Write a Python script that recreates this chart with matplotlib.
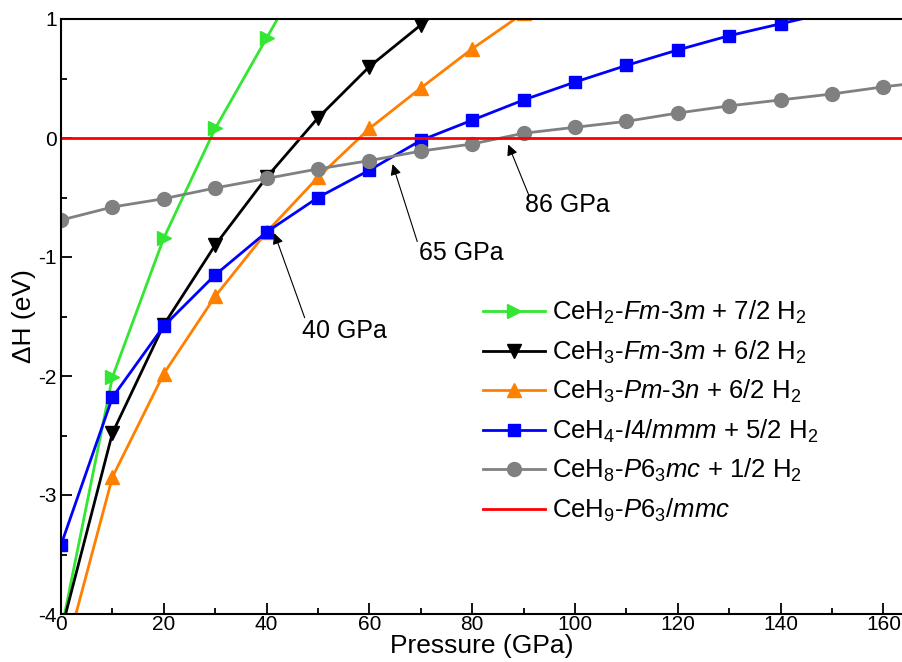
import numpy as np
import matplotlib
matplotlib.use('Agg')
import matplotlib.pyplot as plt
from matplotlib.ticker import MultipleLocator

plt.rcParams['font.family'] = ['Liberation Sans', 'DejaVu Sans']
plt.rcParams['mathtext.fontset'] = 'custom'
plt.rcParams['mathtext.rm'] = 'Liberation Sans'
plt.rcParams['mathtext.it'] = 'Liberation Sans:italic'
plt.rcParams['axes.unicode_minus'] = False

# enthalpy difference relative to CeH9-P63/mmc (eV) vs pressure (GPa)
p_ceh2 = [0, 10, 20, 30, 40, 50]
h_ceh2 = [-4.15, -2.01, -0.84, 0.08, 0.84, 1.6]

p_ceh3_fm = [0, 10, 20, 30, 40, 50, 60, 70, 80]
h_ceh3_fm = [-4.15, -2.48, -1.57, -0.90, -0.33, 0.17, 0.60, 0.95, 1.3]

p_ceh3_pm = [0, 10, 20, 30, 40, 50, 60, 70, 80, 90]
h_ceh3_pm = [-4.47, -2.85, -1.98, -1.33, -0.79, -0.33, 0.08, 0.42, 0.75, 1.05]

p_ceh4 = [0, 10, 20, 30, 40, 50, 60, 70, 80, 90, 100, 110, 120, 130, 140, 150]
h_ceh4 = [-3.42, -2.18, -1.58, -1.15, -0.79, -0.50, -0.27, -0.02, 0.15, 0.32,
          0.47, 0.61, 0.74, 0.86, 0.96, 1.06]

p_ceh8 = [0, 10, 20, 30, 40, 50, 60, 70, 80, 90, 100, 110, 120, 130, 140, 150, 160, 170]
h_ceh8 = [-0.69, -0.58, -0.51, -0.42, -0.34, -0.26, -0.19, -0.11, -0.05, 0.04,
          0.09, 0.14, 0.21, 0.27, 0.32, 0.37, 0.43, 0.48]

p_ceh9 = [0, 170]
h_ceh9 = [0, 0]

labels = [r'CeH$_2$-$\mathit{Fm}$-$\mathit{3m}$ + 7/2 H$_2$',
          r'CeH$_3$-$\mathit{Fm}$-$\mathit{3m}$ + 6/2 H$_2$',
          r'CeH$_3$-$\mathit{Pm}$-$\mathit{3n}$ + 6/2 H$_2$',
          r'CeH$_4$-$\mathit{I4/mmm}$ + 5/2 H$_2$',
          r'CeH$_8$-$\mathit{P}$6$_3$$\mathit{mc}$ + 1/2 H$_2$',
          r'CeH$_9$-$\mathit{P}$6$_3$/$\mathit{mmc}$']

# transitions: (label, arrow tip, arrow tail, text position)
trans_labels = ['40 GPa', '65 GPa', '86 GPa']
trans_tip = [(41.5, -0.80), (64.5, -0.22), (87.0, -0.055)]
trans_tail = [(47.4, -1.51), (69.3, -0.87), (91.0, -0.48)]
trans_text = [(46.8, -1.62), (69.7, -0.965), (90.2, -0.565)]

fig = plt.figure(figsize=(9.02, 6.62), dpi=100)
ax = fig.add_axes([61/902., 1-614/662., 1-61/902., (614-19)/662.])

lw = 2.0
ms = 10
ax.plot(p_ceh2, h_ceh2, '>-', color='#33e633', lw=lw, ms=ms, label=labels[0])
ax.plot(p_ceh3_fm, h_ceh3_fm, 'v-', color='black', lw=lw, ms=ms, label=labels[1])
ax.plot(p_ceh3_pm, h_ceh3_pm, '^-', color='#ff8000', lw=lw, ms=ms, label=labels[2])
ax.plot(p_ceh4, h_ceh4, 's-', color='#0000ff', lw=lw, ms=9, label=labels[3])
ax.plot(p_ceh8, h_ceh8, 'o-', color='#808080', lw=lw, ms=ms, label=labels[4])
ax.plot(p_ceh9, h_ceh9, '-', color='#ff0000', lw=lw, label=labels[5])

for lab, tip, tail, txt in zip(trans_labels, trans_tip, trans_tail, trans_text):
    ax.annotate('', xy=tip, xytext=tail,
                arrowprops=dict(arrowstyle='-|>', color='black', lw=0.8,
                                mutation_scale=16, shrinkA=0, shrinkB=0))
    ax.text(txt[0], txt[1], lab, fontsize=18, ha='left', va='center')

ax.set_xlim(0, 163.6)
ax.set_ylim(-4, 1)
ax.xaxis.set_major_locator(MultipleLocator(20))
ax.xaxis.set_minor_locator(MultipleLocator(10))
ax.yaxis.set_major_locator(MultipleLocator(1))
ax.yaxis.set_minor_locator(MultipleLocator(0.5))
ax.tick_params(which='both', direction='in', top=False, right=False, labelsize=15, width=1.3)
ax.tick_params(axis='x', which='major', length=8, pad=1)
ax.tick_params(axis='y', which='major', length=8, pad=3)
ax.tick_params(which='minor', length=4.5)
ax.spines['right'].set_visible(False)
for s in ['left', 'bottom', 'top']:
    ax.spines[s].set_linewidth(1.5)

ax.set_xlabel('Pressure (GPa)', fontsize=19, labelpad=0)
ax.set_ylabel('ΔH (eV)', fontsize=19, labelpad=2)

ax.legend(loc='upper left', bbox_to_anchor=(483/902., 1-299/662.),
          bbox_transform=fig.transFigure, frameon=False, fontsize=18.5,
          handlelength=2.4, handletextpad=0.3, labelspacing=0.48,
          borderpad=0, borderaxespad=0)

plt.savefig('out.png', dpi=100)
